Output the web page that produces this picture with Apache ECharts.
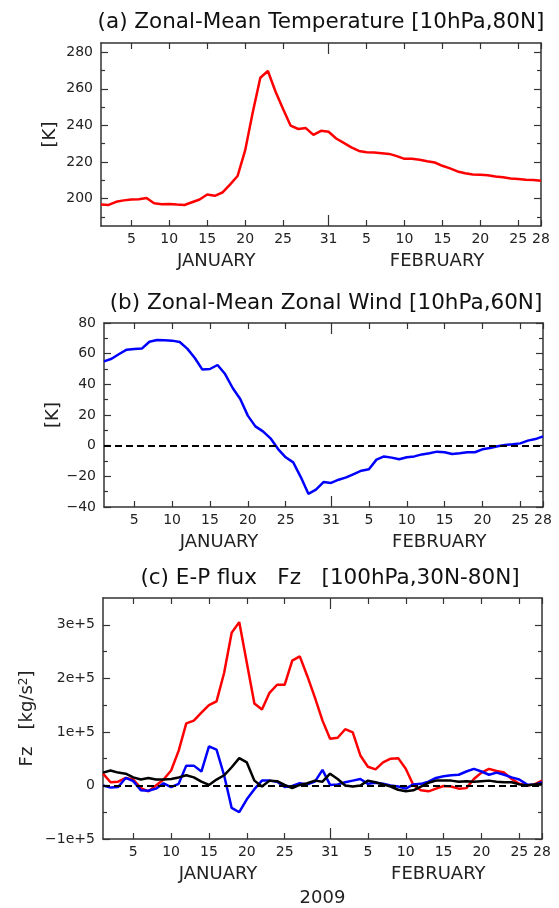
<!DOCTYPE html>
<html>
<head>
<meta charset="utf-8">
<script src="https://cdn.jsdelivr.net/npm/echarts@6/dist/echarts.min.js"></script>
<style>
  html, body { margin: 0; padding: 0; background: #fff; }
  #chart { width: 559px; height: 908px; }
</style>
</head>
<body>
<div id="chart"></div>
<script>
// days since Jan 1 2009 (1..59 = Jan 1 .. Feb 28)
var days = [1, 2, 3, 4, 5, 6, 7, 8, 9, 10, 11, 12, 13, 14, 15, 16, 17, 18, 19, 20,
  21, 22, 23, 24, 25, 26, 27, 28, 29, 30, 31, 32, 33, 34, 35, 36, 37, 38, 39, 40,
  41, 42, 43, 44, 45, 46, 47, 48, 49, 50, 51, 52, 53, 54, 55, 56, 57, 58, 59]
var dayTicks = [5, 10, 15, 20, 25, 31, 36, 41, 46, 51, 56, 59]
var dayTickLabels = ['5', '10', '15', '20', '25', '31', '5', '10', '15', '20', '25', '28']
var monthPos = [16.2, 45.3]
var monthLabels = ['JANUARY', 'FEBRUARY']

// (a) zonal-mean temperature, 10hPa 80N [K]
var tempK = [196.7, 196.5, 198.2, 199, 199.5, 199.6, 200.3, 197.4, 196.9, 197,
  196.7, 196.5, 198, 199.5, 202.2, 201.5, 203.3, 207.6, 212.3, 226.3,
  247, 266, 269.7, 258.5, 248.9, 239.8, 238, 238.5, 234.8, 237,
  236.5, 232.8, 230.4, 228, 226, 225.3, 225.1, 224.8, 224.4, 223.2,
  221.7, 221.7, 221.2, 220.4, 219.7, 217.9, 216.5, 214.8, 213.8, 213.2,
  213, 212.7, 212.1, 211.6, 211, 210.7, 210.3, 210.1, 209.7]
var tempTicks = [200, 220, 240, 260, 280]
var tempMinor = [190, 210, 230, 250, 270]

// (b) zonal-mean zonal wind, 10hPa 60N
var windU = [55, 56.7, 59.8, 62.6, 63, 63.3, 67.8, 68.9, 68.7, 68.5,
  67.6, 63.3, 57.2, 49.6, 50, 52.6, 46.7, 37.6, 30.4, 19.6,
  12.6, 9.3, 4.8, -2.2, -7.6, -10.9, -20.5, -31.4, -28.7, -23.7,
  -24.3, -22.2, -20.7, -18.5, -16.3, -15.4, -9.1, -7, -7.8, -8.9,
  -7.6, -7, -5.7, -5, -3.9, -4.3, -5.4, -5, -4.3, -4.3,
  -2.4, -1.5, -0.4, 0.4, 0.9, 1.5, 3.3, 4.3, 6.1]
var windTicks = [-40, -20, 0, 20, 40, 60, 80]
var windMinor = [-30, -10, 10, 30, 50, 70]

// (c) E-P flux Fz, 100hPa 30N-80N [kg/s2]
var fzTotal = [22000, 6000, 7000, 14000, 11000, -5000, -11000, 0, 11000, 28000,
  65000, 116000, 121000, 136000, 150000, 157000, 210000, 285000, 305000, 229000,
  153000, 142000, 173000, 188000, 188000, 233000, 241000, 204000, 164000, 121000,
  87000, 89000, 105000, 99000, 56000, 35000, 30000, 43000, 50000, 51000,
  31000, 1000, -9000, -11000, -6000, -1000, -2000, -6000, -5000, 12000,
  24000, 31000, 27000, 24000, 12000, 3000, 0, 2000, 9000]
var fzWave1 = [0, -4000, -3000, 14000, 8000, -9000, -10000, -6000, 4000, -3000,
  3000, 37000, 37000, 26000, 73000, 67000, 19000, -42000, -50000, -26000,
  -7000, 9000, 9000, 7000, -3000, -1000, 4000, 2000, 7000, 29000,
  1000, 2000, 6000, 9000, 12000, 3000, 5000, 3000, 0, -2000,
  -6000, 2000, 3000, 7000, 14000, 17000, 19000, 20000, 26000, 31000,
  26000, 20000, 24000, 20000, 15000, 11000, 2000, 1000, 6000]
var fzWave2 = [24000, 28000, 24000, 22000, 15000, 11000, 14000, 11000, 11000, 12000,
  15000, 19000, 15000, 7000, 1000, 11000, 19000, 34000, 51000, 43000,
  9000, -2000, 9000, 8000, 1000, -5000, 1000, 4000, 9000, 7000,
  22000, 12000, 0, -2000, 0, 9000, 6000, 2000, -2000, -8000,
  -11000, -9000, -2000, 5000, 9000, 9000, 9000, 7000, 8000, 7000,
  8000, 9000, 7000, 6000, 6000, 2000, 0, 2000, 3000]
var fzTicks = [-100000, 0, 100000, 200000, 300000]
var fzMinor = [-50000, 50000, 150000, 250000]

var titles = ['(a) Zonal-Mean Temperature [10hPa,80N]',
  '(b) Zonal-Mean Zonal Wind [10hPa,60N]',
  '(c) E-P flux   Fz   [100hPa,30N-80N]']

var FONT = 'DejaVu Sans'
var TXT = '#222'
var BOX = '#333'

var grids = [
  { left: 101, top: 43, width: 440, height: 183 },
  { left: 104, top: 323, width: 439, height: 184 },
  { left: 103, top: 598, width: 439, height: 243 }
]
var titlePos = [[321, 22], [326, 303], [330, 578]]

var xAxes = []
var yAxes = []

function base (g, min, max) {
  return {
    type: 'value', gridIndex: g, min: min, max: max,
    splitLine: { show: false },
    axisLine: { show: false, onZero: false },
    axisTick: { show: false },
    axisLabel: { show: false }
  }
}

function tickStyle (vals, len) {
  return { show: true, inside: true, length: len, customValues: vals, lineStyle: { color: BOX, width: 1.2 } }
}

function lineStyle () {
  return { show: true, onZero: false, lineStyle: { color: BOX, width: 1.5 } }
}

function addXAxes (g, yearName) {
  var noMonthEnd = dayTicks.filter(function (d) { return d !== 31 })
  var a = base(g, 1, 59)
  a.position = 'bottom'
  a.axisLine = lineStyle()
  a.axisTick = tickStyle(noMonthEnd, 6)
  a.axisLabel = {
    show: true, customValues: dayTicks, margin: 6, color: TXT, fontFamily: FONT, fontSize: 14,
    formatter: function (v) { return dayTickLabels[dayTicks.indexOf(v)] }
  }
  xAxes.push(a)
  var main = xAxes.length - 1

  var t = base(g, 1, 59)
  t.position = 'top'
  t.axisLine = lineStyle()
  t.axisTick = tickStyle(noMonthEnd, 6)
  xAxes.push(t)

  var m1 = base(g, 1, 59)
  m1.position = 'bottom'
  m1.axisTick = tickStyle([31], 11)
  xAxes.push(m1)
  var m2 = base(g, 1, 59)
  m2.position = 'top'
  m2.axisTick = tickStyle([31], 11)
  xAxes.push(m2)

  var mo = base(g, 1, 59)
  mo.position = 'bottom'
  mo.axisLabel = {
    show: true, customValues: monthPos, margin: 26, color: TXT, fontFamily: FONT, fontSize: 18,
    formatter: function (v) { return monthLabels[monthPos.indexOf(v)] }
  }
  if (yearName) {
    mo.name = yearName
    mo.nameLocation = 'middle'
    mo.nameGap = 50
    mo.nameMoveOverlap = false
    mo.nameTextStyle = { color: TXT, fontFamily: FONT, fontSize: 18 }
  }
  xAxes.push(mo)
  return main
}

function addYAxes (g, min, max, major, minor, fmt, name, nameGap, rich) {
  var l = base(g, min, max)
  l.position = 'left'
  l.axisLine = lineStyle()
  l.axisTick = tickStyle(major, 7)
  l.axisLabel = { show: true, customValues: major, margin: 8, color: TXT, fontFamily: FONT, fontSize: 14, formatter: fmt }
  l.name = name
  l.nameLocation = 'middle'
  l.nameRotate = 90
  l.nameGap = nameGap
  l.nameMoveOverlap = false
  l.nameTextStyle = { color: TXT, fontFamily: FONT, fontSize: 18, rich: rich }
  yAxes.push(l)
  var main = yAxes.length - 1

  var r = base(g, min, max)
  r.position = 'right'
  r.axisLine = lineStyle()
  r.axisTick = tickStyle(major, 7)
  yAxes.push(r)

  var lm = base(g, min, max)
  lm.position = 'left'
  lm.axisTick = tickStyle(minor, 4)
  yAxes.push(lm)
  var rm = base(g, min, max)
  rm.position = 'right'
  rm.axisTick = tickStyle(minor, 4)
  yAxes.push(rm)
  return main
}

function minus (v) {
  return v < 0 ? '\u2212' + Math.abs(v) : String(v)
}

var xa = addXAxes(0)
var ya = addYAxes(0, 185, 285, tempTicks, tempMinor, function (v) { return String(v) }, '[K]', 42)
var xb = addXAxes(1)
var yb = addYAxes(1, -40, 80, windTicks, windMinor, minus, '[K]', 42)
var xc = addXAxes(2, '2009')
var yc = addYAxes(2, -100000, 350000, fzTicks, fzMinor, function (v) {
  if (v === 0) return '0'
  return (v < 0 ? '\u2212' : '') + Math.abs(v / 100000) + 'e+5'
}, 'Fz   [kg/s{sup|2}]', 67, { sup: { fontSize: 12, verticalAlign: 'top', fontFamily: FONT, color: TXT } })

function pairs (arr) {
  return days.map(function (d, i) { return [d, arr[i]] })
}

var zeroLine = {
  silent: true,
  symbol: ['none', 'none'],
  label: { show: false },
  lineStyle: { type: [7, 4], color: '#000', width: 2 },
  data: [{ yAxis: 0 }]
}

function lineSeries (xi, yi, arr, color, extra) {
  var s = {
    type: 'line', xAxisIndex: xi, yAxisIndex: yi, data: pairs(arr),
    showSymbol: false, symbol: 'none', silent: true,
    lineStyle: { color: color, width: 2.5 }, itemStyle: { color: color }
  }
  return Object.assign(s, extra || {})
}

var graphics = titles.map(function (t, i) {
  return {
    type: 'text', x: titlePos[i][0], y: titlePos[i][1],
    style: {
      text: t, fill: '#111', font: '21.5px "DejaVu Sans"',
      align: 'center', verticalAlign: 'middle', textAlign: 'center', textVerticalAlign: 'middle'
    }
  }
})

var myChart = echarts.init(document.getElementById('chart'))
var option = {
  animation: false,
  backgroundColor: '#fff',
  grid: grids,
  xAxis: xAxes,
  yAxis: yAxes,
  graphic: graphics,
  series: [
    lineSeries(xa, ya, tempK, '#ff0000'),
    lineSeries(xb, yb, windU, '#0000ff', { markLine: zeroLine }),
    lineSeries(xc, yc, fzTotal, '#ff0000', { markLine: zeroLine }),
    lineSeries(xc, yc, fzWave1, '#0000ff'),
    lineSeries(xc, yc, fzWave2, '#000000')
  ]
}
myChart.setOption(option)
</script>
</body>
</html>
